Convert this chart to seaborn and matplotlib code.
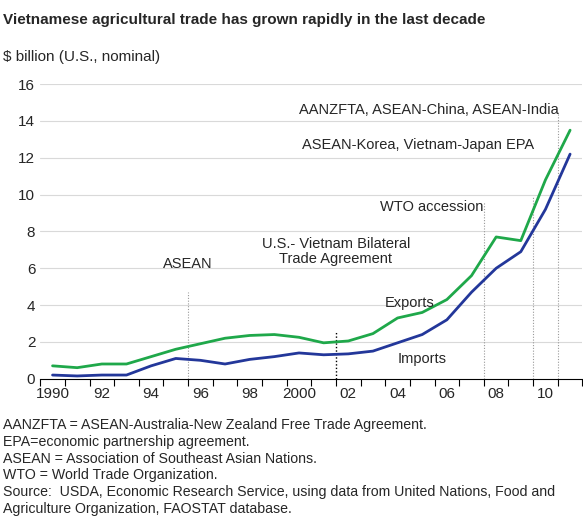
import matplotlib
matplotlib.use("Agg")
import matplotlib.pyplot as plt
import seaborn as sns
import pandas as pd
import numpy as np

years = list(range(1990, 2012))
exports = [0.7, 0.6, 0.8, 0.8, 1.2, 1.6, 1.9, 2.2, 2.35, 2.4, 2.25, 1.95, 2.05, 2.45, 3.3, 3.6, 4.3, 5.6, 7.7, 7.5, 10.8, 13.5]
imports = [0.2, 0.15, 0.2, 0.2, 0.7, 1.1, 1.0, 0.8, 1.05, 1.2, 1.4, 1.3, 1.35, 1.5, 1.95, 2.4, 3.2, 4.7, 6.0, 6.9, 9.2, 12.2]
tick_labels = ["1990", "92", "94", "96", "98", "2000", "02", "04", "06", "08", "10"]

sns.set_style("white")
plt.rcParams['font.family'] = ['Liberation Sans', 'DejaVu Sans']

df = pd.DataFrame({"x": np.array(years) + 0.5, "Exports": exports, "Imports": imports})

fig = plt.figure(figsize=(5.83, 5.26), dpi=100)
ax = fig.add_axes([0.069, 0.28, 0.93, 0.56])
for y in range(2, 17, 2):
    ax.axhline(y, color="#d9d9d9", lw=0.8, zorder=0)

def vline(x, ytop, color="#999999", ls=(0, (1, 1.5)), lw=0.8):
    ax.plot([x, x], [0, ytop], color=color, ls=ls, lw=lw, zorder=1)

vline(1996, 4.7)
vline(2002, 2.6, color="black", lw=1.0)
vline(2008, 9.6)
vline(2010, 9.9)
vline(2011, 14.5)

sns.lineplot(data=df, x="x", y="Exports", color="#1fa84a", lw=2, ax=ax, zorder=3)
sns.lineplot(data=df, x="x", y="Imports", color="#23379a", lw=2, ax=ax, zorder=3)

ax.set_xlim(1990, 2012)
ax.set_ylim(0, 16)
ax.set_yticks(range(0, 17, 2))
ax.set_xticks(range(1990, 2013))
ax.set_xticklabels([])
ax.set_xticks([y + 0.5 for y in range(1990, 2012, 2)], minor=True)
ax.set_xticklabels(tick_labels, minor=True)
ax.tick_params(axis="x", which="major", length=5, direction="out", color="black", bottom=True)
ax.tick_params(axis="x", which="minor", length=0, labelsize=11, pad=6)
ax.tick_params(axis="y", length=0, labelsize=11)
ax.set_xlabel(""); ax.set_ylabel("")
for s in ["top", "right", "left"]:
    ax.spines[s].set_visible(False)
ax.spines["bottom"].set_color("black")

fs = 10.5
ax.text(1996, 6.0, "ASEAN", ha="center", fontsize=fs)
ax.text(2002, 6.3, "U.S.- Vietnam Bilateral\nTrade Agreement", ha="center", fontsize=fs, linespacing=1.1)
ax.text(2008, 9.1, "WTO accession", ha="right", fontsize=fs)
ax.text(2011.05, 14.4, "AANZFTA, ASEAN-China, ASEAN-India", ha="right", fontsize=fs)
ax.text(2010.05, 12.5, "ASEAN-Korea, Vietnam-Japan EPA", ha="right", fontsize=fs)
ax.text(2005.0, 3.9, "Exports", ha="center", fontsize=fs)
ax.text(2005.5, 0.85, "Imports", ha="center", fontsize=fs)

fig.text(0.005, 0.975, "Vietnamese agricultural trade has grown rapidly in the last decade",
         fontsize=11, fontweight="bold", va="top")
fig.text(0.005, 0.905, "$ billion (U.S., nominal)", fontsize=11, va="top")
notes = ("AANZFTA = ASEAN-Australia-New Zealand Free Trade Agreement.\n"
         "EPA=economic partnership agreement.\n"
         "ASEAN = Association of Southeast Asian Nations.\n"
         "WTO = World Trade Organization.\n"
         "Source:  USDA, Economic Research Service, using data from United Nations, Food and\n"
         "Agriculture Organization, FAOSTAT database.")
fig.text(0.005, 0.205, notes, fontsize=10.2, va="top", linespacing=1.25)

fig.savefig("out.png", dpi=100)
